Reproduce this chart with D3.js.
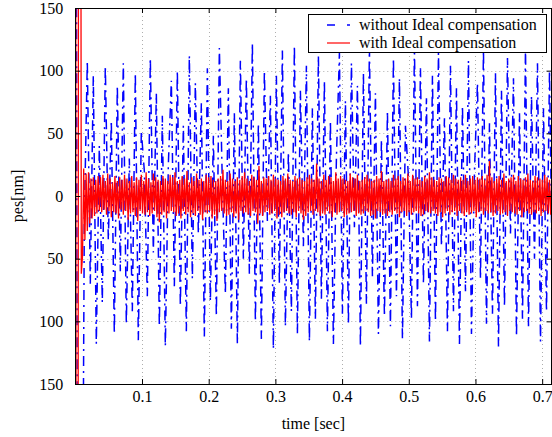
<!DOCTYPE html>
<html><head><meta charset="utf-8">
<script src="https://cdn.jsdelivr.net/npm/d3@7"></script>
<style>body{margin:0;background:#fff} svg{display:block} text{font-family:"Liberation Serif","Times New Roman",serif;fill:#000}</style>
</head><body><svg id="c" width="552" height="437"></svg>
<script>
// ---- data ----
const blueInterval = 0.0045;   // seconds between blue samples
const blueValues = [
 800, -800, -500, -20, 108, -70, 96, -118, 40, -85, 104, -35, 60, -110, 88, -60, 106, -102, 30, -92,
 98, -115, 52, 20, -80, 110, -45, 82, -104, 64, -120, 25, 92, -72, 100, -88, 56, -108, 112, -66,
 90, -30, 74, -112, 102, -84, 48, -96, 118, 10, -78, 86, -106, 66, -118, 108, -50, 94, -62, 122,
 -100, 58, -114, 100, -20, 80, -122, 96, -70, 116, -104, 35, -92, 120, -110, 84, -40, 104, -116, 70,
 -98, 112, -82, 92, -108, 60, -118, 30, 114, -94, 76, -102, 106, -25, 88, -120, 98, -86, 118, -64,
 82, -110, 45, -96, 68, -104, 110, -80, 94, -114, 56, 15, -98, 120, -88, 102, -70, 78, -116, 96,
 -100, 114, -40, 62, -108, 104, -92, 86, -118, 72, -76, 108, -110, 20, 90, -66, 116, -102, 58, -94,
 98, -120, 84, -88, 110, -30, 94, -112, 66, -98, 118, -104, 80, -50, 106, -116, 70, -92, 100, -78
];
const redInterval = 0.0018;   // seconds between red samples
const redValues = [
 800, -800, -800, 800, 800, -62, -48, 22, -35, 18, -28, 19, -22, 14, -18, 15, -16, 13, -14, 16,
 -12, 15, -13, 17, -11, 12, -15, 18, -12, 14, -17, 11, -13, 16, -14, 12, -18, 15, -11, 13,
 -15, 17, -12, 14, -19, 12, -14, 16, -13, 11, -16, 15, -20, 13, -12, 17, -14, 12, -15, 19,
 -13, 14, -16, 11, -14, 18, -12, 15, -17, 13, -21, 12, -15, 16, -13, 14, -18, 12, -14, 17,
 -12, 15, -13, 19, -16, 12, -14, 13, -18, 16, -12, 14, -15, 20, -13, 11, -17, 15, -14, 12,
 -16, 18, -12, 13, -15, 14, -19, 12, -13, 17, -14, 15, -12, 16, -18, 13, -15, 12, -20, 14,
 -13, 16, -12, 21, -14, 13, -16, 12, -15, 18, -13, 14, -17, 12, -14, 15, -19, 13, -12, 16,
 -14, 19, -13, 14, -15, 12, -16, 17, -12, 15, -13, 13, -22, 24, -14, 12, -16, 15, -13, 14,
 -12, 16, -15, 13, -14, 17, -12, 14, -18, 13, -15, 12, -17, 16, -13, 14, -12, 18, -14, 13,
 -15, 12, -13, 16, -17, 14, -12, 15, -14, 13, -19, 12, -16, 15, -13, 17, -12, 14, -15, 13,
 -12, 26, -13, 14, -16, 12, -14, 17, -15, 13, -12, 16, -14, 15, -17, 12, -13, 19, -15, 14,
 -13, 16, -12, 14, -17, 13, -15, 12, -14, 18, -13, 15, -12, 14, -16, 17, -14, 12, -15, 13,
 -14, 15, -12, 17, -13, 14, -16, 12, -15, 13, -18, 16, -12, 14, -13, 20, -15, 12, -14, 13,
 -16, 14, -13, 12, -15, 17, -12, 14, -14, 16, -17, 12, -13, 15, -12, 14, -16, 18, -13, 12,
 -15, 17, -13, 14, -12, 15, -14, 13, -16, 12, -15, 16, -12, 14, -13, 19, -14, 15, -12, 13,
 -14, 12, -16, 15, -13, 14, -17, 12, -14, 16, -12, 15, -15, 13, -13, 17, -12, 14, -16, 13,
 -12, 15, -14, 13, -16, 17, -13, 12, -15, 14, -14, 16, -12, 13, -17, 15, -13, 14, -12, 16,
 -15, 13, -12, 17, -14, 28, -13, 15, -16, 12, -14, 14, -12, 16, -15, 13, -14, 18, -13, 12,
 -16, 14, -12, 15, -13, 17, -14, 12, -15, 16, -12, 14, -17, 13, -13, 15, -12, 18, -14, 13,
 -15, 12, -13, 16, -14, 15, -12, 14, -16, 13, -13, 17, -12, 15, -14, 13, -15, 12
];
const xTicks = [0.1, 0.2, 0.3, 0.4, 0.5, 0.6, 0.7];
const xTickLabels = ["0.1", "0.2", "0.3", "0.4", "0.5", "0.6", "0.7"];
const yTicks = [150, 100, 50, 0, -50, -100, -150];
const yTickLabels = ["150", "100", "50", "0", "50", "100", "150"];
const seriesNames = ["without Ideal compensation", "with Ideal compensation"];
const xDomain = [0, 0.714];
const yDomain = [-150, 150];

// ---- layout ----
const L = 75.3, R = 551.5, T = 8, B = 384;
const svg = d3.select("#c");
const x = d3.scaleLinear().domain(xDomain).range([L, R]);
const y = d3.scaleLinear().domain(yDomain).range([B, T]);

svg.append("defs").append("clipPath").attr("id", "clip")
  .append("rect").attr("x", L).attr("y", T).attr("width", R - L).attr("height", B - T);

// grid
const grid = svg.append("g").attr("stroke", "#999").attr("stroke-width", 0.8).attr("stroke-dasharray", "1,3");
grid.selectAll(".gx").data(xTicks).join("line")
  .attr("x1", d => Math.round(x(d)) + 0.5).attr("x2", d => Math.round(x(d)) + 0.5).attr("y1", T).attr("y2", B);
grid.selectAll(".gy").data(yTicks.filter(d => d > yDomain[0] && d < yDomain[1])).join("line")
  .attr("y1", d => Math.round(y(d)) + 0.5).attr("y2", d => Math.round(y(d)) + 0.5).attr("x1", L).attr("x2", R);

// series
const plot = svg.append("g").attr("clip-path", "url(#clip)");
const blueData = blueValues.map((v, i) => [i * blueInterval, v]);
const redData = redValues.map((v, i) => [i * redInterval, v]);
const line = d3.line().x(d => x(d[0])).y(d => y(d[1]));
plot.append("path").datum(blueData).attr("d", line).attr("fill", "none")
  .attr("stroke", "#0000ff").attr("stroke-width", 1.5).attr("stroke-dasharray", "10,5,2,5");
plot.append("path").datum(redData).attr("d", line).attr("fill", "none")
  .attr("stroke", "#ff0000").attr("stroke-width", 1.3);

// axes (inward ticks, box)
const ax = svg.append("g");
const tickLen = 5;
const xb = d3.axisBottom(x).tickValues(xTicks).tickFormat((d, i) => xTickLabels[i]).tickSizeInner(-tickLen).tickSizeOuter(0).tickPadding(7);
const xt = d3.axisTop(x).tickValues(xTicks).tickFormat("").tickSizeInner(-tickLen).tickSizeOuter(0);
const yl = d3.axisLeft(y).tickValues(yTicks).tickFormat((d, i) => yTickLabels[i]).tickSizeInner(-tickLen).tickSizeOuter(0).tickPadding(12);
const yr = d3.axisRight(y).tickValues(yTicks).tickFormat("").tickSizeInner(-tickLen).tickSizeOuter(0);
function style(g) {
  g.select(".domain").remove();
  g.selectAll("line").attr("stroke", "#000");
  g.selectAll("text").attr("font-size", 16).attr("font-family", "Liberation Serif");
}
ax.append("g").attr("transform", `translate(0,${B})`).call(xb).call(style);
ax.append("g").attr("transform", `translate(0,${T})`).call(xt).call(style);
ax.append("g").attr("transform", `translate(${L},0)`).call(yl).call(style);
ax.append("g").attr("transform", `translate(${R},0)`).call(yr).call(style);
svg.append("rect").attr("x", Math.round(L) + 0.5).attr("y", T + 0.5).attr("width", Math.round(R) - Math.round(L) - 1).attr("height", B - T)
  .attr("fill", "none").attr("stroke", "#000").attr("stroke-width", 1);

// labels
svg.append("text").attr("x", (L + R) / 2).attr("y", 429).attr("text-anchor", "middle").attr("font-size", 16).text("time [sec]");
svg.append("text").attr("transform", `translate(23,${y(0)}) rotate(-90)`).attr("text-anchor", "middle").attr("font-size", 16).text("pes[nm]");

// legend
const lg = svg.append("g");
lg.append("rect").attr("x", 308.5).attr("y", 14.5).attr("width", 238).attr("height", 38).attr("fill", "#fff").attr("stroke", "#000");
const styles = [{c: "#0000ff", dash: "8,12,3", w: 1.5}, {c: "#ff0000", dash: null, w: 1.2}];
seriesNames.forEach((n, i) => {
  const yy = 25 + i * 18;
  lg.append("line").attr("x1", 327).attr("x2", 350).attr("y1", yy).attr("y2", yy)
    .attr("stroke", styles[i].c).attr("stroke-width", styles[i].w).attr("stroke-dasharray", styles[i].dash);
  lg.append("text").attr("x", 359).attr("y", yy + 5).attr("font-size", 16).text(n);
});
</script></body></html>
